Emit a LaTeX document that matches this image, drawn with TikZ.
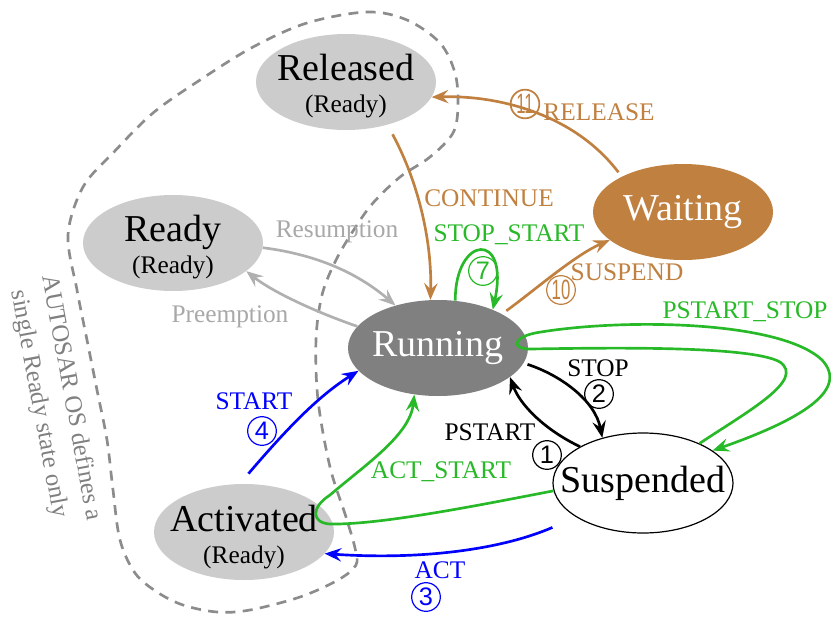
\documentclass[tikz,border=0pt]{standalone}
\usepackage{fontspec}
\usepackage{graphicx}
\setmainfont{Liberation Serif}
\newfontfamily\numfont{Liberation Sans}
\usetikzlibrary{shapes.geometric,arrows.meta}

\definecolor{tanbrown}{RGB}{192,128,64}
\definecolor{stategreen}{RGB}{40,185,40}
\definecolor{stateblue}{RGB}{0,0,255}
\definecolor{softgray}{RGB}{176,176,176}
\definecolor{labelgray}{RGB}{168,168,168}
\definecolor{fillgray}{RGB}{204,204,204}
\definecolor{rungray}{RGB}{128,128,128}
\definecolor{dashgray}{RGB}{140,140,140}

\newcommand\bigtxt{\fontsize{28.5}{30}\selectfont}
\newcommand\smalltxt{\fontsize{19}{24}\selectfont}
\newcommand\twodig[1]{\scalebox{0.6}[1]{\fontsize{21}{21}\selectfont #1}}

\begin{document}
\begin{tikzpicture}[x=0.75pt,y=-0.75pt,
  statebox/.style={ellipse, minimum width=135pt, minimum height=72pt, inner sep=0pt},
  statetext/.style={font=\smalltxt, align=center, inner sep=0pt},
  trans/.style={line width=2pt, -{Stealth[length=12.5pt,width=10pt,inset=4.5pt]}},
  lbl/.style={font=\fontsize{19}{19.5}\selectfont, inner sep=0pt},
  numc/.style={circle, draw, line width=0.9pt, minimum size=21.5pt, inner sep=0pt,
               font=\numfont\fontsize{19}{19}\selectfont}
]
\useasboundingbox (0,0) rectangle (831,617);

% boundary of the task states that AUTOSAR merges into one Ready state
\draw[dashgray, line width=2pt, dash pattern=on 7.5pt off 5.5pt]
  plot[smooth cycle, tension=0.55] coordinates {
    (355,548) (346,517) (330,467) (318,400) (316,340) (322,295) (336,260)
    (355,228) (373,203) (400,177) (430,157) (453,133) (458,105) (455,73)
    (440,43) (407,20) (367,12) (307,23) (253,47) (200,80) (153,113)
    (113,153) (83,187) (68,235) (77,290) (87,340) (97,390) (107,440)
    (113,490) (120,540) (135,573) (157,592) (183,605) (217,612) (250,610)
    (300,597) (338,580) (356,565)};

\node[rotate=-79.5, align=center, text=rungray, font=\fontsize{18.6}{24.5}\selectfont,
      inner sep=0pt] (note) at (55,401) {AUTOSAR OS defines a\\single Ready state only};

% states
\node[statebox, fill=fillgray] (rel) at (346,82) {};
\node[statetext] (reltxt) at (346,86) {{\bigtxt Released}\\(Ready)};
\node[statebox, fill=fillgray] (ready) at (173,243) {};
\node[statetext] (readytxt) at (173,247) {{\bigtxt Ready}\\(Ready)};
\node[statebox, fill=tanbrown] (wait) at (683,212) {};
\node[statetext, text=white] (waittxt) at (683,212) {\bigtxt Waiting};
\node[statebox, fill=rungray] (run) at (438,348) {};
\node[statetext, text=white] (runtxt) at (438,348) {\bigtxt Running};
\node[statebox, draw, line width=0.9pt, minimum height=75pt] (susp) at (643,483) {};
\node[statetext] (susptxt) at (643,483) {\bigtxt Suspended};
\node[statebox, fill=fillgray] (act) at (244,532) {};
\node[statetext] (acttxt) at (244,537) {{\bigtxt Activated}\\(Ready)};

% transitions
\draw[trans, tanbrown, shorten <=8pt] (rel.-46) .. controls (420,185) and (432,245) .. (run.99);
\draw[trans, tanbrown, shorten <=4pt] (wait.150) .. controls (575,115) and (500,95) .. (rel.-10);
\draw[trans, tanbrown, shorten <=4pt] (run.28) .. controls (535,290) and (575,255) .. (wait.201);
\draw[trans, stategreen] (run.70) .. controls (455,235) and (510,230) .. (run.35);
\draw[trans, softgray] (ready.-3) .. controls (320,255) and (360,275) .. (run.135);
\draw[trans, softgray] (run.165) .. controls (310,310) and (270,290) .. (ready.-21);
\draw[trans, stateblue, shorten <=10pt] (act.95) .. controls (290,425) and (320,395) .. (run.196);
\draw[trans, stategreen] (susp.185) .. controls (480,505) and (380,525) .. (330,524)
  .. controls (312,523) and (310,508) .. (330,495)
  .. controls (365,465) and (410,435) .. (run.243);
\draw[trans, stateblue] ([xshift=-15.75pt,yshift=-9pt]susp.205) .. controls (500,550) and (420,560) .. (act.-15);
\draw[trans, black, shorten <=3pt] (run.-10) .. controls (560,375) and (595,400) .. (susp.132);
\draw[trans, black] (susp.150) .. controls (545,430) and (520,405) .. (run.-22);
\draw[trans, stategreen] (susp.35) .. controls (750,410) and (805,380) .. (780,362)
  .. controls (750,345) and (600,348) .. (530,349)
  .. controls (512,349) and (512,338) .. (535,333)
  .. controls (620,318) and (780,320) .. (822,360)
  .. controls (850,390) and (800,420) .. (susp.25);

% transition labels
\node[lbl, text=tanbrown] (lcont) at (489,198) {CONTINUE};
\node[lbl, text=tanbrown] (lrel) at (599,112) {RELEASE};
\node[numc, tanbrown, line width=1.3pt] (n11) at (525,104) {\twodig{11}};
\node[lbl, text=tanbrown] (lsusp) at (627,272) {SUSPEND};
\node[numc, tanbrown] (n10) at (561,290) {\twodig{10}};
\node[lbl, text=stategreen] (lss) at (509,235) {STOP\_START};
\node[numc, stategreen] (n7) at (483,271) {7};
\node[lbl, text=labelgray] (lres) at (337,232) {Resumption};
\node[lbl, text=labelgray] (lpre) at (230,317) {Preemption};
\node[lbl, text=stategreen] (lpss) at (745,312) {PSTART\_STOP};
\node[lbl] (lstop) at (598,368) {STOP};
\node[numc] (n2) at (599,394) {2};
\node[lbl] (lpst) at (490,432) {PSTART};
\node[numc] (n1) at (547,455) {1};
\node[lbl, text=stategreen] (lacts) at (441,472) {ACT\_START};
\node[lbl, text=stateblue] (lstart) at (254,401) {START};
\node[numc, stateblue] (n4) at (262,431) {4};
\node[lbl, text=stateblue] (lact) at (440,570) {ACT};
\node[numc, stateblue] (n3) at (426,597) {3};
\end{tikzpicture}
\end{document}
